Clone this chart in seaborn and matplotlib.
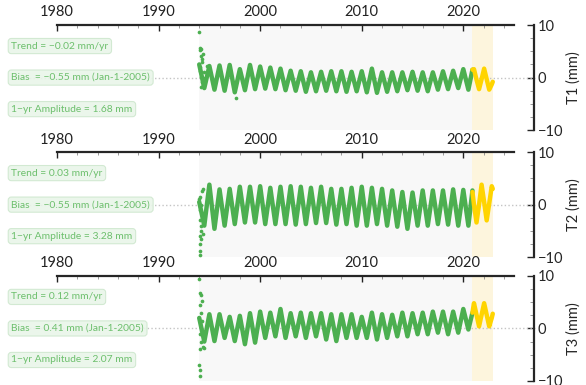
import numpy as np
import pandas as pd
import seaborn as sns
import matplotlib.pyplot as plt
from matplotlib.ticker import MultipleLocator
import matplotlib.transforms as mtransforms

sns.set_style("white")
plt.rcParams['font.family'] = ['Lato', 'DejaVu Sans']

# --- data ----------------------------------------------------------------
years = list(range(1994, 2021))          # annual cycles shown in green
end_green = 2020.9                       # start of the yellow (recent) window
end_yellow = 2022.9
yellow_t = [2020.9, 2021.05, 2021.3, 2021.55, 2021.8, 2022.05, 2022.3, 2022.55, 2022.8, 2022.9]

names = ['T1', 'T2', 'T3']
trend_txt = ['Trend = \u22120.02 mm/yr', 'Trend = 0.03 mm/yr', 'Trend = 0.12 mm/yr']
bias_txt = ['Bias  = \u22120.55 mm (Jan-1-2005)', 'Bias  = \u22120.55 mm (Jan-1-2005)',
            'Bias  = 0.41 mm (Jan-1-2005)']
amp_txt = ['1\u2212yr Amplitude = 1.68 mm', '1\u2212yr Amplitude = 3.28 mm',
           '1\u2212yr Amplitude = 2.07 mm']

# value near the start of each year (peak) and mid-year (trough), mm
t1_peaks = [2.5, 2.2, 2.3, 2.4, 1.6, 2.4, 2.1, 1.9, 1.7, 1.3, 1.2, 1.0, 1.1, 1.2,
            1.2, 1.1, 1.2, 1.7, 1.0, 1.0, 1.0, 1.1, 1.0, 1.0, 1.2, 1.3, 1.6]
t1_troughs = [-2.0, -2.3, -2.5, -2.8, -2.4, -2.2, -2.1, -2.2, -2.4, -2.5, -2.7, -2.6, -2.5, -2.6,
              -2.7, -2.6, -2.8, -2.9, -2.7, -2.6, -2.4, -2.5, -2.6, -2.3, -2.2, -2.0, -2.3]
t1_end = 1.5
t1_yellow = [1.5, 1.6, -0.4, -2.2, -0.3, 1.7, -0.3, -2.3, -1.3, -0.8]
t1_scatter_t = [1994.0, 1994.05, 1994.1, 1994.15, 1994.2, 1994.25, 1994.3, 1994.05, 1994.1,
                1994.2, 1994.3, 1994.4, 1994.15, 1994.35, 1994.5, 1994.6, 1994.8, 1997.6]
t1_scatter_v = [8.6, 5.6, 5.2, 4.2, 5.5, 3.6, 3.0, 2.0, 1.2, 0.2, -0.8, -1.5, -1.8, 4.5,
                1.0, 0.0, 2.2, -3.8]

t2_peaks = [0.5, 3.8, 2.9, 3.0, 3.4, 3.4, 3.5, 3.2, 3.4, 3.5, 3.4, 3.2, 3.4, 3.0,
            3.0, 3.2, 3.4, 3.2, 3.0, 2.7, 2.4, 2.3, 2.7, 2.7, 2.7, 2.9, 2.8]
t2_troughs = [-4.0, -4.6, -4.0, -3.7, -3.4, -3.4, -3.7, -3.7, -3.7, -3.8, -3.7, -3.5, -3.5, -3.8,
              -3.7, -4.0, -4.0, -3.7, -4.0, -4.2, -4.6, -4.0, -4.0, -3.7, -3.8, -4.0, -4.0]
t2_end = 2.7
t2_yellow = [2.4, 0.0, -3.4, 0.0, 3.8, 0.5, -3.0, 0.2, 3.5, 3.0]
t2_scatter_t = [1994.05, 1994.05, 1994.1, 1994.05, 1994.15, 1994.2, 1994.1, 1994.25, 1994.05,
                1994.2, 1994.1, 1994.3, 1994.4, 1994.35, 1994.0, 1994.15]
t2_scatter_v = [-9.5, -8.8, -7.5, -6.0, -5.0, -4.0, -3.0, -2.0, -1.0, 0.0, 1.5, 2.5, 3.0,
                -5.5, 1.0, -6.5]

t3_peaks = [2.0, 2.7, 2.7, 2.2, 2.4, 2.9, 3.2, 3.0, 3.7, 2.9, 3.0, 2.9, 2.9, 2.7,
            2.7, 2.7, 2.2, 3.0, 2.7, 2.6, 3.0, 2.9, 3.0, 3.2, 3.2, 3.2, 3.7]
t3_troughs = [-2.5, -2.4, -1.8, -2.4, -3.0, -2.7, -1.8, -1.5, -1.8, -1.5, -1.8, -1.5, -2.1, -2.4,
              -1.8, -1.8, -1.8, -2.1, -1.8, -1.5, -1.5, -1.1, -1.1, -0.8, -1.1, -0.8, -0.2]
t3_end = 3.0
t3_yellow = [3.0, 4.8, 2.6, 0.4, 2.6, 4.8, 2.6, 0.4, 2.0, 2.8]
t3_scatter_t = [1994.0, 1994.1, 1994.2, 1994.25, 1994.05, 1994.15, 1994.3, 1994.1, 1994.2,
                1994.05, 1994.0, 1994.1, 1994.05, 1994.4, 1994.5]
t3_scatter_v = [9.5, 6.7, 6.3, 5.2, 4.4, 3.0, 1.5, -1.0, -2.5, -4.0, -7.0, -8.0, -9.0,
                -3.5, -3.8]

peaks = [t1_peaks, t2_peaks, t3_peaks]
troughs = [t1_troughs, t2_troughs, t3_troughs]
ends = [t1_end, t2_end, t3_end]
yellows = [t1_yellow, t2_yellow, t3_yellow]
scat_t = [t1_scatter_t, t2_scatter_t, t3_scatter_t]
scat_v = [t1_scatter_v, t2_scatter_v, t3_scatter_v]

green = '#4caf50'
gold = '#ffd400'
txt_green = '#6cbf6c'

fig = plt.figure(figsize=(5.86, 3.85), dpi=100)
bottoms = [0.662, 0.332, 0.0104]

for i in range(3):
    ax = fig.add_axes([0.0973, bottoms[i], 0.780, 0.273])

    # interleave peaks (Jan) and troughs (Jul)
    gt, gv = [], []
    for y, p, tr in zip(years, peaks[i], troughs[i]):
        gt += [y, y + 0.5]
        gv += [p, tr]
    gt.append(end_green)
    gv.append(ends[i])
    df = pd.DataFrame({'t': gt, 'v': gv})
    dy = pd.DataFrame({'t': yellow_t, 'v': yellows[i]})
    ds = pd.DataFrame({'t': scat_t[i], 'v': scat_v[i]})

    ax.axvspan(years[0], end_green, color='#f8f8f8', lw=0, zorder=0)
    ax.axvspan(end_green, end_yellow, color='#fdf5dd', lw=0, zorder=0)

    trans = mtransforms.blended_transform_factory(ax.transAxes, ax.transData)
    ax.plot([-0.1, 1.045], [0, 0], transform=trans, color='#c4c4c4', ls=':', lw=1,
            clip_on=False, zorder=1)

    sns.lineplot(data=df, x='t', y='v', color=green, lw=3.2, ax=ax, zorder=3,
                 solid_joinstyle='round')
    sns.scatterplot(data=ds, x='t', y='v', color=green, s=7, linewidth=0, ax=ax, zorder=3)
    sns.lineplot(data=dy, x='t', y='v', color=gold, lw=3.2, ax=ax, zorder=4,
                 solid_joinstyle='round')

    box = dict(boxstyle='round,pad=0.3', fc='#e9f5e9', ec='#cfe8cf', lw=0.8, alpha=0.9)
    for yy, s in zip([6, 0, -6], [trend_txt[i], bias_txt[i], amp_txt[i]]):
        ax.text(-0.1, yy, s, transform=trans, fontsize=7.4, color=txt_green,
                va='center', ha='left', bbox=box, zorder=5, clip_on=False)

    ax.set_xlim(1980, 2025)
    ax.set_ylim(-10, 10)
    ax.set_xlabel('')
    ax.set_ylabel(f'{names[i]} (mm)', fontsize=10.5, labelpad=2)

    ax.xaxis.tick_top()
    ax.yaxis.tick_right()
    ax.yaxis.set_label_position('right')
    ax.xaxis.set_major_locator(MultipleLocator(10))
    ax.xaxis.set_minor_locator(MultipleLocator(2))
    ax.yaxis.set_major_locator(MultipleLocator(10))
    ax.yaxis.set_minor_locator(MultipleLocator(2.5))
    ax.tick_params(axis='x', which='major', direction='in', length=4, width=1,
                   labelsize=10.5, pad=4, colors='#222222', labelcolor='#222222')
    ax.tick_params(axis='x', which='minor', direction='in', length=2.2, width=0.6,
                   color='#888888')
    ax.tick_params(axis='y', which='major', direction='in', length=5, width=1,
                   labelsize=10.5, pad=3)
    ax.tick_params(axis='y', which='minor', direction='in', length=3, width=0.6,
                   color='#888888')

    for side in ['left', 'bottom']:
        ax.spines[side].set_visible(False)
    ax.spines['top'].set_linewidth(1.6)
    ax.spines['right'].set_linewidth(1.6)
    ax.spines['right'].set_position(('outward', 14))
    ax.patch.set_alpha(0)

fig.savefig('out.png', dpi=100)
